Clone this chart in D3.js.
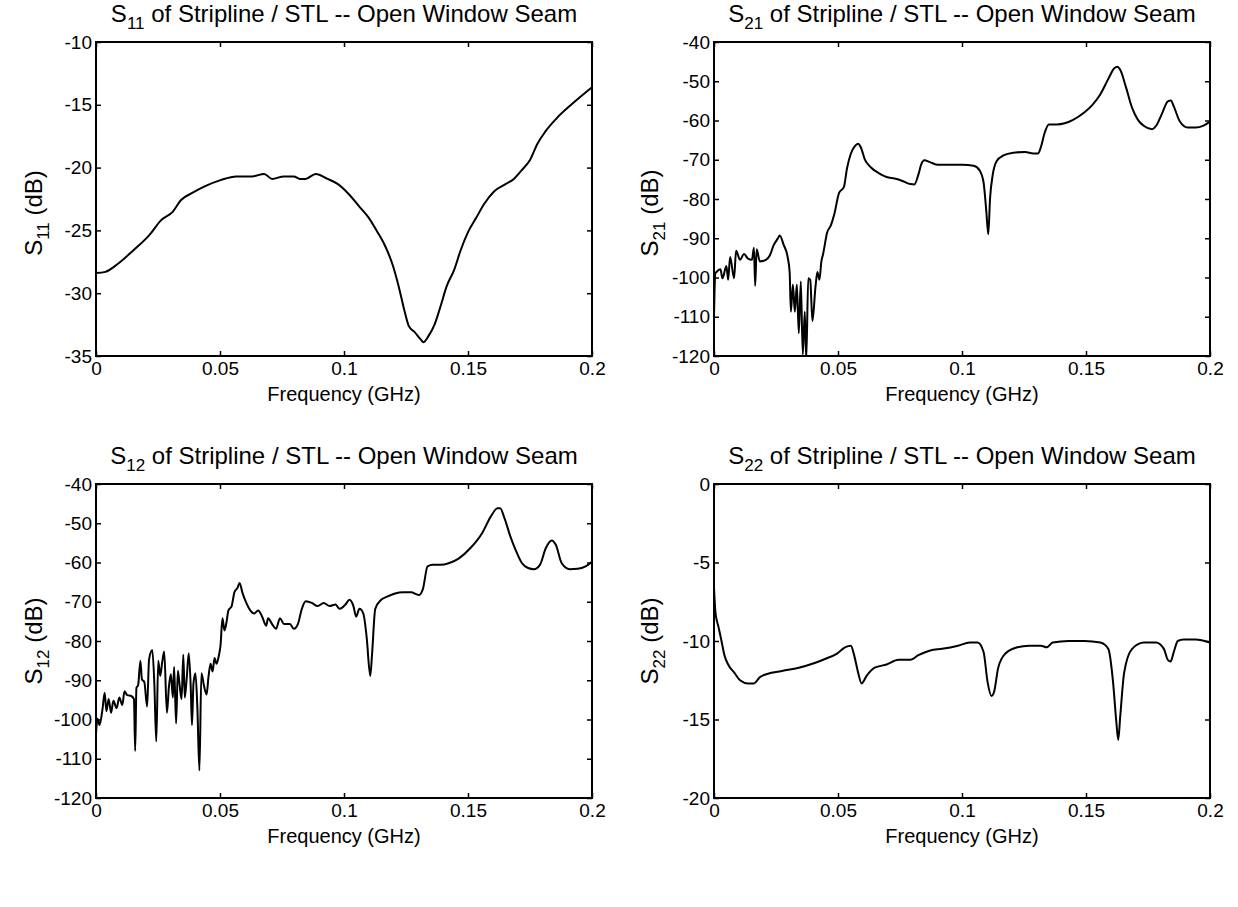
<!DOCTYPE html>
<html>
<head>
<meta charset="utf-8">
<script src="https://cdn.jsdelivr.net/npm/d3@7"></script>
<style>
  html, body { margin: 0; padding: 0; background: #fff; }
  svg { display: block; font-family: "Liberation Sans", Arial, Helvetica, sans-serif; }
</style>
</head>
<body>
<svg id="chart" width="1238" height="907"></svg>
<script>
// ---------- data (frequency in GHz, magnitude in dB) ----------
const xTicks = [0, 0.05, 0.1, 0.15, 0.2];
const xTickLabels = ["0", "0.05", "0.1", "0.15", "0.2"];

const s11Freq = [0,0.0038,0.0086,0.015,0.0214,0.0262,0.031,0.0342,0.039,0.0438,0.0502,0.0566,0.063,0.0678,0.071,0.0758,0.0798,0.0822,0.0845,0.0886,0.0934,0.0974,0.1014,0.1062,0.110,0.1134,0.1165,0.1197,0.1221,0.1245,0.1261,0.1285,0.131,0.132,0.1341,0.1365,0.139,0.1413,0.1445,0.147,0.1501,0.1533,0.1565,0.1605,0.1653,0.1685,0.1717,0.175,0.178,0.1813,0.1861,0.191,0.1957,0.2];
const s11dB = [-28.4,-28.3,-27.7,-26.6,-25.4,-24.2,-23.5,-22.6,-22.0,-21.5,-21.0,-20.7,-20.7,-20.5,-20.9,-20.7,-20.7,-20.9,-20.9,-20.5,-20.9,-21.3,-22.0,-23.1,-24.0,-25.1,-26.2,-27.8,-29.5,-31.5,-32.6,-33.1,-33.7,-33.9,-33.4,-32.5,-31.0,-29.5,-28.1,-26.6,-25.1,-24.0,-22.9,-21.9,-21.3,-20.9,-20.2,-19.4,-18.1,-17.1,-16.0,-15.1,-14.3,-13.6];
const s11Ticks = [-35, -30, -25, -20, -15, -10];

const s21Freq = [0,0.0005,0.001,0.0026,0.0034,0.005,0.0057,0.0065,0.0081,0.0089,0.0105,0.0121,0.0137,0.0153,0.0161,0.0166,0.0172,0.0185,0.0209,0.0225,0.0241,0.0257,0.0265,0.0281,0.0297,0.0305,0.031,0.0318,0.0326,0.0334,0.0342,0.035,0.0358,0.0366,0.0372,0.038,0.0388,0.0397,0.0409,0.0417,0.0425,0.0433,0.044,0.0456,0.0472,0.0485,0.0504,0.0524,0.0536,0.0552,0.0568,0.0581,0.0592,0.0608,0.0632,0.0664,0.0696,0.0728,0.076,0.0792,0.0808,0.0824,0.0836,0.0848,0.0871,0.0903,0.0951,0.1,0.1047,0.1071,0.1087,0.1098,0.1106,0.1113,0.1124,0.114,0.1167,0.1207,0.1255,0.1287,0.1307,0.1318,0.1334,0.135,0.1382,0.1414,0.1446,0.1494,0.1526,0.1558,0.159,0.1614,0.1627,0.1638,0.1662,0.1686,0.171,0.1734,0.1766,0.1782,0.1806,0.183,0.1842,0.1854,0.1878,0.191,0.1942,0.1974,0.2];
const s21dB = [-110,-99,-98.6,-97.9,-100.2,-97.1,-100.6,-94.8,-100.2,-93.2,-95.5,-94.0,-95.2,-95.5,-92.4,-102.1,-92.8,-95.9,-95.5,-94.4,-91.7,-90.1,-89.3,-91.7,-94.8,-98.6,-108.7,-101.8,-108.7,-101.8,-114.2,-101.0,-119.6,-108.7,-121,-100.2,-100.6,-111.1,-102.5,-98.6,-100.6,-95.9,-94.0,-88.6,-86.6,-83.9,-78.5,-76.9,-72.3,-68.4,-66.5,-65.9,-66.8,-69.9,-71.9,-73.4,-74.4,-74.8,-75.4,-76.2,-76.3,-73.8,-71.1,-70.1,-70.6,-71.3,-71.3,-71.3,-71.5,-72.7,-75.8,-83.1,-89.0,-80.0,-73.8,-70.3,-68.9,-68.2,-68.0,-68.4,-68.4,-66.8,-63.0,-61.0,-61.0,-60.7,-59.9,-57.9,-56.0,-53.3,-49.4,-46.7,-46.3,-47.1,-51.7,-56.8,-59.9,-61.4,-62.2,-61.4,-58.3,-55.1,-54.9,-56.4,-60.2,-61.8,-61.8,-61.3,-60.3];
const s21Ticks = [-120, -110, -100, -90, -80, -70, -60, -50, -40];

const s12Freq = [0,0.0006,0.0014,0.0026,0.0035,0.0042,0.0051,0.0061,0.007,0.0083,0.0094,0.0106,0.0115,0.0126,0.0142,0.0153,0.0158,0.0163,0.017,0.0179,0.0185,0.0195,0.0206,0.0214,0.0227,0.0235,0.0243,0.0251,0.0259,0.0267,0.0275,0.0286,0.0294,0.0302,0.031,0.0315,0.0323,0.033,0.0337,0.0345,0.0352,0.0358,0.0366,0.0374,0.0382,0.0387,0.0393,0.0401,0.0409,0.0417,0.0425,0.0435,0.0446,0.0454,0.0462,0.047,0.0478,0.0486,0.0496,0.0502,0.051,0.0518,0.0526,0.0534,0.0547,0.0558,0.0571,0.0579,0.059,0.0606,0.0622,0.0638,0.0654,0.067,0.0686,0.0694,0.071,0.0726,0.0742,0.0758,0.0782,0.0798,0.0814,0.083,0.0846,0.087,0.0894,0.0918,0.0942,0.0966,0.0982,0.1006,0.1022,0.1038,0.1049,0.1062,0.1078,0.1091,0.1106,0.1113,0.1126,0.115,0.1174,0.1206,0.1238,0.127,0.1302,0.1318,0.1337,0.1358,0.139,0.1422,0.1462,0.151,0.1558,0.159,0.1619,0.163,0.1646,0.167,0.1694,0.1718,0.1742,0.1766,0.179,0.1814,0.1838,0.1854,0.1878,0.191,0.1942,0.1974,0.2];
const s12dB = [-103.7,-99.8,-101.4,-97.5,-93.2,-97.9,-94.8,-98.3,-95.2,-97.1,-94.4,-96.3,-92.8,-93.8,-94.0,-94.8,-108.0,-92.0,-91.2,-85.0,-89.7,-90.5,-96.7,-84.7,-82.3,-90.5,-105.6,-85.0,-88.9,-85.4,-82.7,-98.3,-91.7,-88.5,-94.4,-86.6,-101.0,-87.6,-91.1,-94.8,-83.5,-94.4,-89.3,-83.1,-91.8,-101.4,-90.8,-88.2,-97.5,-113.0,-88.2,-91.3,-93.6,-88.9,-85.8,-87.8,-84.3,-85.8,-83.5,-81.2,-74.2,-77.3,-75.3,-72.2,-71.1,-67.6,-66.4,-65.2,-67.6,-70.3,-72.2,-73.0,-72.2,-73.8,-76.1,-74.2,-75.7,-76.9,-74.2,-75.7,-75.7,-76.9,-75.7,-71.8,-69.9,-70.3,-71.1,-70.3,-71.1,-70.7,-71.8,-70.7,-69.5,-71.1,-73.8,-71.8,-73.0,-78.8,-88.9,-83.5,-71.8,-69.5,-68.7,-67.9,-67.6,-67.6,-68.3,-66.8,-61.0,-60.6,-60.6,-60.2,-59.0,-56.3,-52.4,-48.5,-46.2,-46.2,-48.5,-53.2,-57.1,-60.2,-61.4,-61.7,-60.6,-56.3,-54.4,-55.5,-60.2,-61.7,-61.6,-61.0,-59.8];
const s12Ticks = [-120, -110, -100, -90, -80, -70, -60, -50, -40];

const s22Freq = [0,0.0006,0.0018,0.0029,0.0042,0.0057,0.0081,0.0105,0.0137,0.0161,0.0185,0.0214,0.0278,0.0342,0.0406,0.0455,0.0496,0.0528,0.0552,0.0565,0.0581,0.0595,0.0616,0.0648,0.0696,0.0744,0.0792,0.0824,0.0872,0.092,0.0984,0.1031,0.1063,0.1087,0.1103,0.1119,0.113,0.1146,0.1175,0.1223,0.1271,0.1318,0.1342,0.1366,0.143,0.1494,0.1558,0.159,0.1609,0.1622,0.163,0.1638,0.1654,0.1686,0.1734,0.1782,0.1814,0.183,0.1841,0.1854,0.187,0.1894,0.1942,0.2];
const s22dB = [-6.6,-8.2,-9.1,-9.9,-10.9,-11.5,-12.0,-12.5,-12.7,-12.7,-12.3,-12.1,-11.9,-11.7,-11.4,-11.1,-10.8,-10.4,-10.3,-10.9,-12.0,-12.7,-12.2,-11.7,-11.5,-11.2,-11.2,-10.9,-10.6,-10.5,-10.3,-10.1,-10.1,-10.7,-12.6,-13.5,-13.2,-11.7,-10.8,-10.4,-10.3,-10.3,-10.4,-10.1,-10.0,-10.0,-10.1,-10.5,-12.6,-15.1,-16.3,-14.8,-12.0,-10.5,-10.1,-10.1,-10.5,-11.2,-11.3,-10.7,-10.0,-9.9,-9.9,-10.1];
const s22Ticks = [-20, -15, -10, -5, 0];

const panels = [
  { sub: "11", freq: s11Freq, db: s11dB, yDomain: [-35, -10], yTicks: s11Ticks, x0: 96,  y0: 42 },
  { sub: "21", freq: s21Freq, db: s21dB, yDomain: [-120, -40], yTicks: s21Ticks, x0: 714, y0: 42 },
  { sub: "12", freq: s12Freq, db: s12dB, yDomain: [-120, -40], yTicks: s12Ticks, x0: 96,  y0: 484 },
  { sub: "22", freq: s22Freq, db: s22dB, yDomain: [-20, 0],    yTicks: s22Ticks, x0: 714, y0: 484 }
];

// ---------- drawing ----------
const W = 496, H = 314, TICK = 5;
const svg = d3.select("#chart");

panels.forEach((p, i) => {
  const g = svg.append("g").attr("transform", `translate(${p.x0},${p.y0})`);
  const x = d3.scaleLinear().domain([0, 0.2]).range([0, W]);
  const y = d3.scaleLinear().domain(p.yDomain).range([H, 0]);

  const clipId = "clip" + i;
  g.append("clipPath").attr("id", clipId)
    .append("rect").attr("x", -1).attr("y", -1).attr("width", W + 2).attr("height", H + 2);

  // axes (ticks inward, mirrored on top/right)
  const fmtX = (d) => xTickLabels[xTicks.indexOf(d)];
  const fmtY = (d) => String(d); // plain hyphen-minus, as in the original
  const ax = g.append("g").attr("transform", `translate(0,${H})`)
    .call(d3.axisBottom(x).tickValues(xTicks).tickFormat(fmtX).tickSizeInner(-TICK).tickSizeOuter(0).tickPadding(6));
  const axTop = g.append("g")
    .call(d3.axisTop(x).tickValues(xTicks).tickFormat("").tickSizeInner(-TICK).tickSizeOuter(0));
  const ay = g.append("g")
    .call(d3.axisLeft(y).tickValues(p.yTicks).tickFormat(fmtY).tickSizeInner(-TICK).tickSizeOuter(0).tickPadding(4));
  const ayR = g.append("g").attr("transform", `translate(${W},0)`)
    .call(d3.axisRight(y).tickValues(p.yTicks).tickFormat("").tickSizeInner(-TICK).tickSizeOuter(0));

  [ax, axTop, ay, ayR].forEach(a => {
    a.select(".domain").remove();
    a.selectAll(".tick line").attr("stroke", "#000").attr("stroke-width", 1.5);
    a.selectAll(".tick text").attr("fill", "#000").style("font-size", "19px");
  });

  // data line
  const pts = p.freq.map((f, k) => [f, p.db[k]]);
  g.append("path")
    .datum(pts)
    .attr("clip-path", `url(#${clipId})`)
    .attr("fill", "none")
    .attr("stroke", "#000")
    .attr("stroke-width", 2)
    .attr("stroke-linejoin", "round")
    .attr("d", d3.line().curve(d3.curveMonotoneX).x(d => x(d[0])).y(d => y(d[1])));

  // box
  g.append("rect").attr("x", 0).attr("y", 0).attr("width", W).attr("height", H)
    .attr("fill", "none").attr("stroke", "#000").attr("stroke-width", 2);

  // title
  const t = g.append("text").attr("x", W / 2).attr("y", -20)
    .attr("text-anchor", "middle").style("font-size", "24px").attr("fill", "#000");
  t.append("tspan").text("S");
  t.append("tspan").attr("dy", 7).style("font-size", "17px").text(p.sub);
  t.append("tspan").attr("dy", -7).text(" of Stripline / STL -- Open Window Seam");

  // x label
  g.append("text").attr("x", W / 2).attr("y", H + 45)
    .attr("text-anchor", "middle").style("font-size", "20px").attr("fill", "#000")
    .text("Frequency (GHz)");

  // y label
  const ly = i < 2 ? H / 2 + 14 : H / 2;
  const yl = g.append("text")
    .attr("transform", `translate(${i % 2 === 0 ? -54 : -56},${ly}) rotate(-90)`)
    .attr("text-anchor", "middle").style("font-size", "24px").attr("fill", "#000");
  yl.append("tspan").text("S");
  yl.append("tspan").attr("dy", 7).style("font-size", "17px").text(p.sub);
  yl.append("tspan").attr("dy", -7).text(" (dB)");
});
</script>
</body>
</html>
